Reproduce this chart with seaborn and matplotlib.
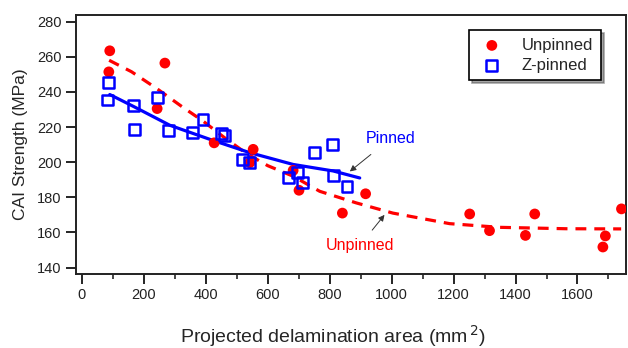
import numpy as np
import pandas as pd
import matplotlib
matplotlib.use("Agg")
import matplotlib.pyplot as plt
import seaborn as sns

# ---- data ----
unpinned_x = [90, 87, 268, 243, 427, 553, 542, 682, 701, 841, 916, 1252, 1316, 1432, 1462, 1690, 1682, 1742]
unpinned_y = [263.4, 251.4, 256.4, 230.5, 211.0, 207.3, 199.7, 195.3, 184.0, 171.0, 182.0, 170.5, 161.0, 158.3, 170.5, 158.0, 151.7, 173.4]

pinned_x = [87, 83, 168, 171, 245, 281, 356, 391, 451, 461, 518, 542, 751, 809, 666, 696, 712, 811, 856]
pinned_y = [245.4, 235.4, 232.0, 218.7, 236.6, 218.0, 217.0, 224.4, 216.2, 215.3, 201.4, 199.7, 205.4, 210.0, 191.4, 194.3, 188.2, 192.4, 186.3]

# trend curves
pinned_fit_x = [90, 168, 284, 413, 542, 682, 811, 897]
pinned_fit_y = [238.5, 231.6, 221.0, 213.0, 205.4, 198.7, 195.0, 191.0]
unpinned_fit_x = [88, 160, 241, 320, 391, 460, 531, 600, 682, 768, 886, 1004, 1187, 1348, 1563, 1741]
unpinned_fit_y = [258.0, 251.5, 242.0, 232.0, 223.4, 214.0, 205.0, 198.0, 192.0, 183.4, 176.8, 171.0, 165.0, 162.9, 162.1, 162.0]

x_ticks = [0, 200, 400, 600, 800, 1000, 1200, 1400, 1600]
y_ticks = [140, 160, 180, 200, 220, 240, 260, 280]

sns.set_style("ticks")
plt.rcParams["font.family"] = ["Liberation Sans", "DejaVu Sans"]

fig = plt.figure(figsize=(6.28, 3.48), dpi=100)
ax = fig.add_axes([0.121, 0.213, 0.876, 0.744])

df_u = pd.DataFrame({"x": unpinned_fit_x, "y": unpinned_fit_y})
df_p = pd.DataFrame({"x": pinned_fit_x, "y": pinned_fit_y})
sns.lineplot(data=df_u, x="x", y="y", ax=ax, color="#ff0000", lw=2.3,
             linestyle=(0, (3.4, 2.5)), sort=False, estimator=None)
sns.lineplot(data=df_p, x="x", y="y", ax=ax, color="#0000ff", lw=2.3,
             sort=False, estimator=None)

sns.scatterplot(x=unpinned_x, y=unpinned_y, ax=ax, marker="o", s=60,
                color="#ff0000", edgecolor="none", label="Unpinned", zorder=3)
sns.scatterplot(x=pinned_x, y=pinned_y, ax=ax, marker="s", s=62,
                facecolor="none", edgecolor="#0000ff", linewidth=1.8,
                label="Z-pinned", zorder=4)

ax.set_xlim(-19, 1757)
ax.set_ylim(136.4, 283.8)
ax.set_xticks(x_ticks)
ax.set_xticks(np.arange(100, 1757, 200), minor=True)
ax.set_yticks(y_ticks)
ax.tick_params(axis="both", which="major", direction="out", length=7, width=1.2,
               colors="black", labelsize=10.5, labelcolor="#222222")
ax.tick_params(axis="x", which="minor", direction="out", length=3.5, width=1.2)
for sp in ax.spines.values():
    sp.set_visible(True)
    sp.set_linewidth(1.4)
    sp.set_color("#222222")

ax.set_xlabel("Projected delamination area (mm$^{\\,2}$)", fontsize=14, labelpad=8)
ax.xaxis.set_label_coords(0.467, -0.19)
ax.set_ylabel("CAI Strength (MPa)", fontsize=12.5, labelpad=6)

ax.annotate("Pinned", xy=(865, 194.7), xytext=(997, 213.5), color="#0000ff",
            fontsize=11.5, ha="center", va="center",
            arrowprops=dict(arrowstyle="-|>", color="#333333", lw=0.7,
                            mutation_scale=9, shrinkA=6, shrinkB=0))
ax.annotate("Unpinned", xy=(977, 170.0), xytext=(898, 152.7), color="#ff0000",
            fontsize=11.5, ha="center", va="center",
            arrowprops=dict(arrowstyle="-|>", color="#333333", lw=0.7,
                            mutation_scale=9, shrinkA=4, shrinkB=0))

leg = ax.legend(loc="upper right", bbox_to_anchor=(0.969, 0.973), fontsize=12,
                frameon=True, fancybox=False, shadow=True, edgecolor="black",
                handletextpad=0.9, borderpad=0.45, labelspacing=0.3,
                handlelength=1.8)
leg.get_frame().set_linewidth(1.2)

fig.savefig("out.png", dpi=100)
